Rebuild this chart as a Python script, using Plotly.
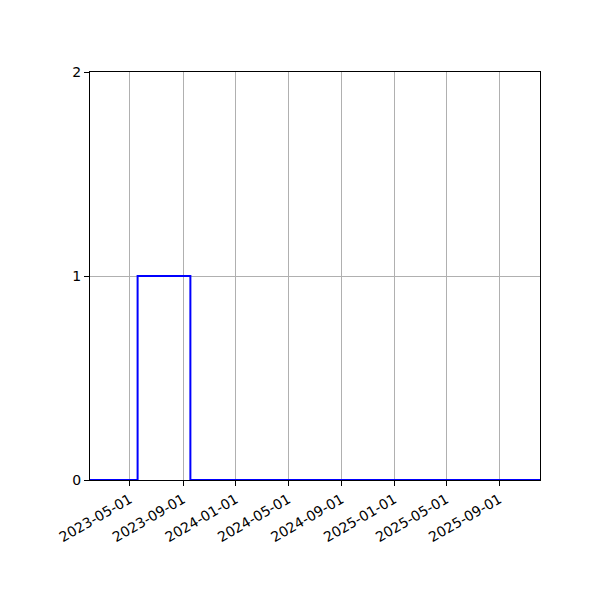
import plotly.graph_objects as go

# step series: value holds until the next date
dates = ["2023-01-29", "2023-05-19", "2023-09-18", "2025-12-04"]
values = [0, 1, 0, 0]

tick_dates = ["2023-05-01", "2023-09-01", "2024-01-01", "2024-05-01",
              "2024-09-01", "2025-01-01", "2025-05-01", "2025-09-01"]
y_ticks = [0, 1, 2]

fig = go.Figure(go.Scatter(x=dates, y=values, mode="lines", line_shape="hv",
                           line=dict(color="blue", width=2)))

# page body adds 8px offset, so margins are shifted to compensate
fig.update_layout(
    width=600, height=600,
    margin=dict(l=82, r=68, t=64, b=128),
    paper_bgcolor="white", plot_bgcolor="white",
    showlegend=False,
    font=dict(family="DejaVu Sans", size=14, color="black"),
)
fig.update_xaxes(
    type="date", range=["2023-01-29", "2025-12-04"],
    tickvals=tick_dates, ticktext=tick_dates, tickangle=-30,
    showgrid=True, gridcolor="#b0b0b0", gridwidth=0.8,
    showline=True, linecolor="black", linewidth=1, mirror=True,
    ticks="outside", ticklen=5, tickcolor="black", zeroline=False,
    automargin=False,
)
fig.update_yaxes(
    range=[0, 2], tickvals=y_ticks,
    showgrid=True, gridcolor="#b0b0b0", gridwidth=0.8,
    showline=True, linecolor="black", linewidth=1, mirror=True,
    ticks="outside", ticklen=5, tickcolor="black", zeroline=False,
    automargin=False,
)

fig.write_html("out.html")
